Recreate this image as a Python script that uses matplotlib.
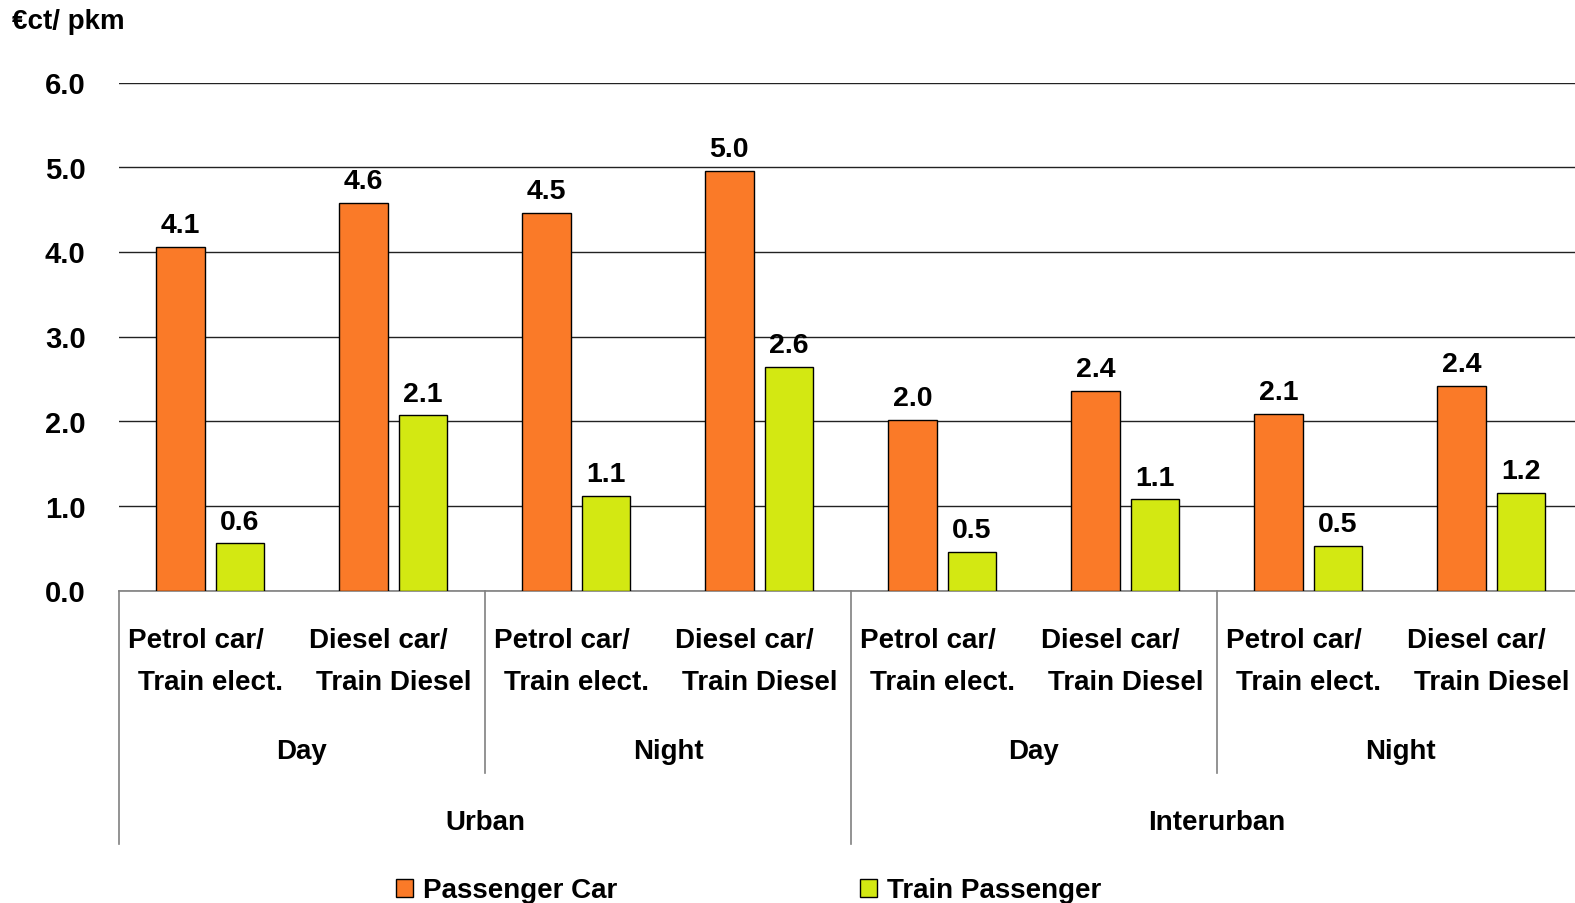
import matplotlib
matplotlib.use('Agg')
import matplotlib.pyplot as plt
import numpy as np

plt.rcParams['font.family'] = ['Liberation Sans', 'DejaVu Sans']
plt.rcParams['font.weight'] = 'bold'

# Values
car = [4.06, 4.58, 4.46, 4.96, 2.02, 2.36, 2.09, 2.42]
train = [0.56, 2.07, 1.12, 2.64, 0.46, 1.08, 0.53, 1.16]
sub_line1 = ["Petrol car/", "Diesel car/"] * 4
sub_line2 = ["Train elect.", "Train Diesel"] * 4
period_labels = ["Day", "Night", "Day", "Night"]
area_labels = ["Urban", "Interurban"]
series_names = ["Passenger Car", "Train Passenger"]
yticks = [0, 1, 2, 3, 4, 5, 6]

orange = '#FA7A28'
green = '#D3E812'

fig = plt.figure(figsize=(15.75, 9.035), dpi=100)
ax = fig.add_axes([119/1575, 1-591/903, 1464/1575, 508/903])

x = np.arange(len(car))
w = 0.265
b1 = ax.bar(x - 0.165, car, w, color=orange, edgecolor='black', linewidth=1, label=series_names[0], zorder=3)
b2 = ax.bar(x + 0.160, train, w, color=green, edgecolor='black', linewidth=1, label=series_names[1], zorder=3)

for bars, vals in ((b1, car), (b2, train)):
    for r, v in zip(bars, vals):
        ax.annotate("%.1f" % v, (r.get_x() + r.get_width()/2, v), xytext=(0, 6),
                    textcoords='offset points', ha='center', va='bottom',
                    fontsize=20.5, fontweight='bold')

ax.set_xlim(-0.5, 7.5)
ax.set_ylim(0, 6)
ax.set_yticks(yticks)
ax.set_yticklabels(["%.1f" % t for t in yticks], fontsize=21, fontweight='bold')
ax.tick_params(axis='y', length=0, pad=24)
ax.set_xticks([])
ax.yaxis.grid(True, color='#222222', linewidth=1)
ax.set_axisbelow(True)
for s in ('top', 'right', 'left'):
    ax.spines[s].set_visible(False)
ax.spines['bottom'].set_color('#808080')
ax.spines['bottom'].set_linewidth(1.2)

# hierarchical category labels
tr = ax.get_xaxis_transform()
for i in range(len(car)):
    ax.text(i - 0.08, -0.097, sub_line1[i], transform=tr, ha='center', va='center', fontsize=20)
    ax.text(i, -0.180, sub_line2[i], transform=tr, ha='center', va='center', fontsize=20)
for j, lab in enumerate(period_labels):
    ax.text(2*j + 0.5, -0.317, lab, transform=tr, ha='center', va='center', fontsize=20)
for j, lab in enumerate(area_labels):
    ax.text(4*j + 1.5, -0.456, lab, transform=tr, ha='center', va='center', fontsize=20)

for xb in (1.5, 5.5):
    ax.plot([xb, xb], [0, -0.358], transform=tr, color='#808080', lw=1.2, clip_on=False)
for xb in (-0.5, 3.5, 7.5):
    ax.plot([xb, xb], [0, -0.498], transform=tr, color='#808080', lw=1.2, clip_on=False)

fig.text(12/1575, 1-22/903, "€ct/ pkm", ha='left', va='center', fontsize=20, fontweight='bold')

fig.legend(handles=[b1, b2], labels=series_names, loc='center',
           bbox_to_anchor=(0.4755, 1-891/903), ncol=2, frameon=False,
           fontsize=20, handlelength=0.6, handleheight=0.6, handletextpad=0.36,
           columnspacing=8.75)

fig.savefig("out.png", dpi=100)
